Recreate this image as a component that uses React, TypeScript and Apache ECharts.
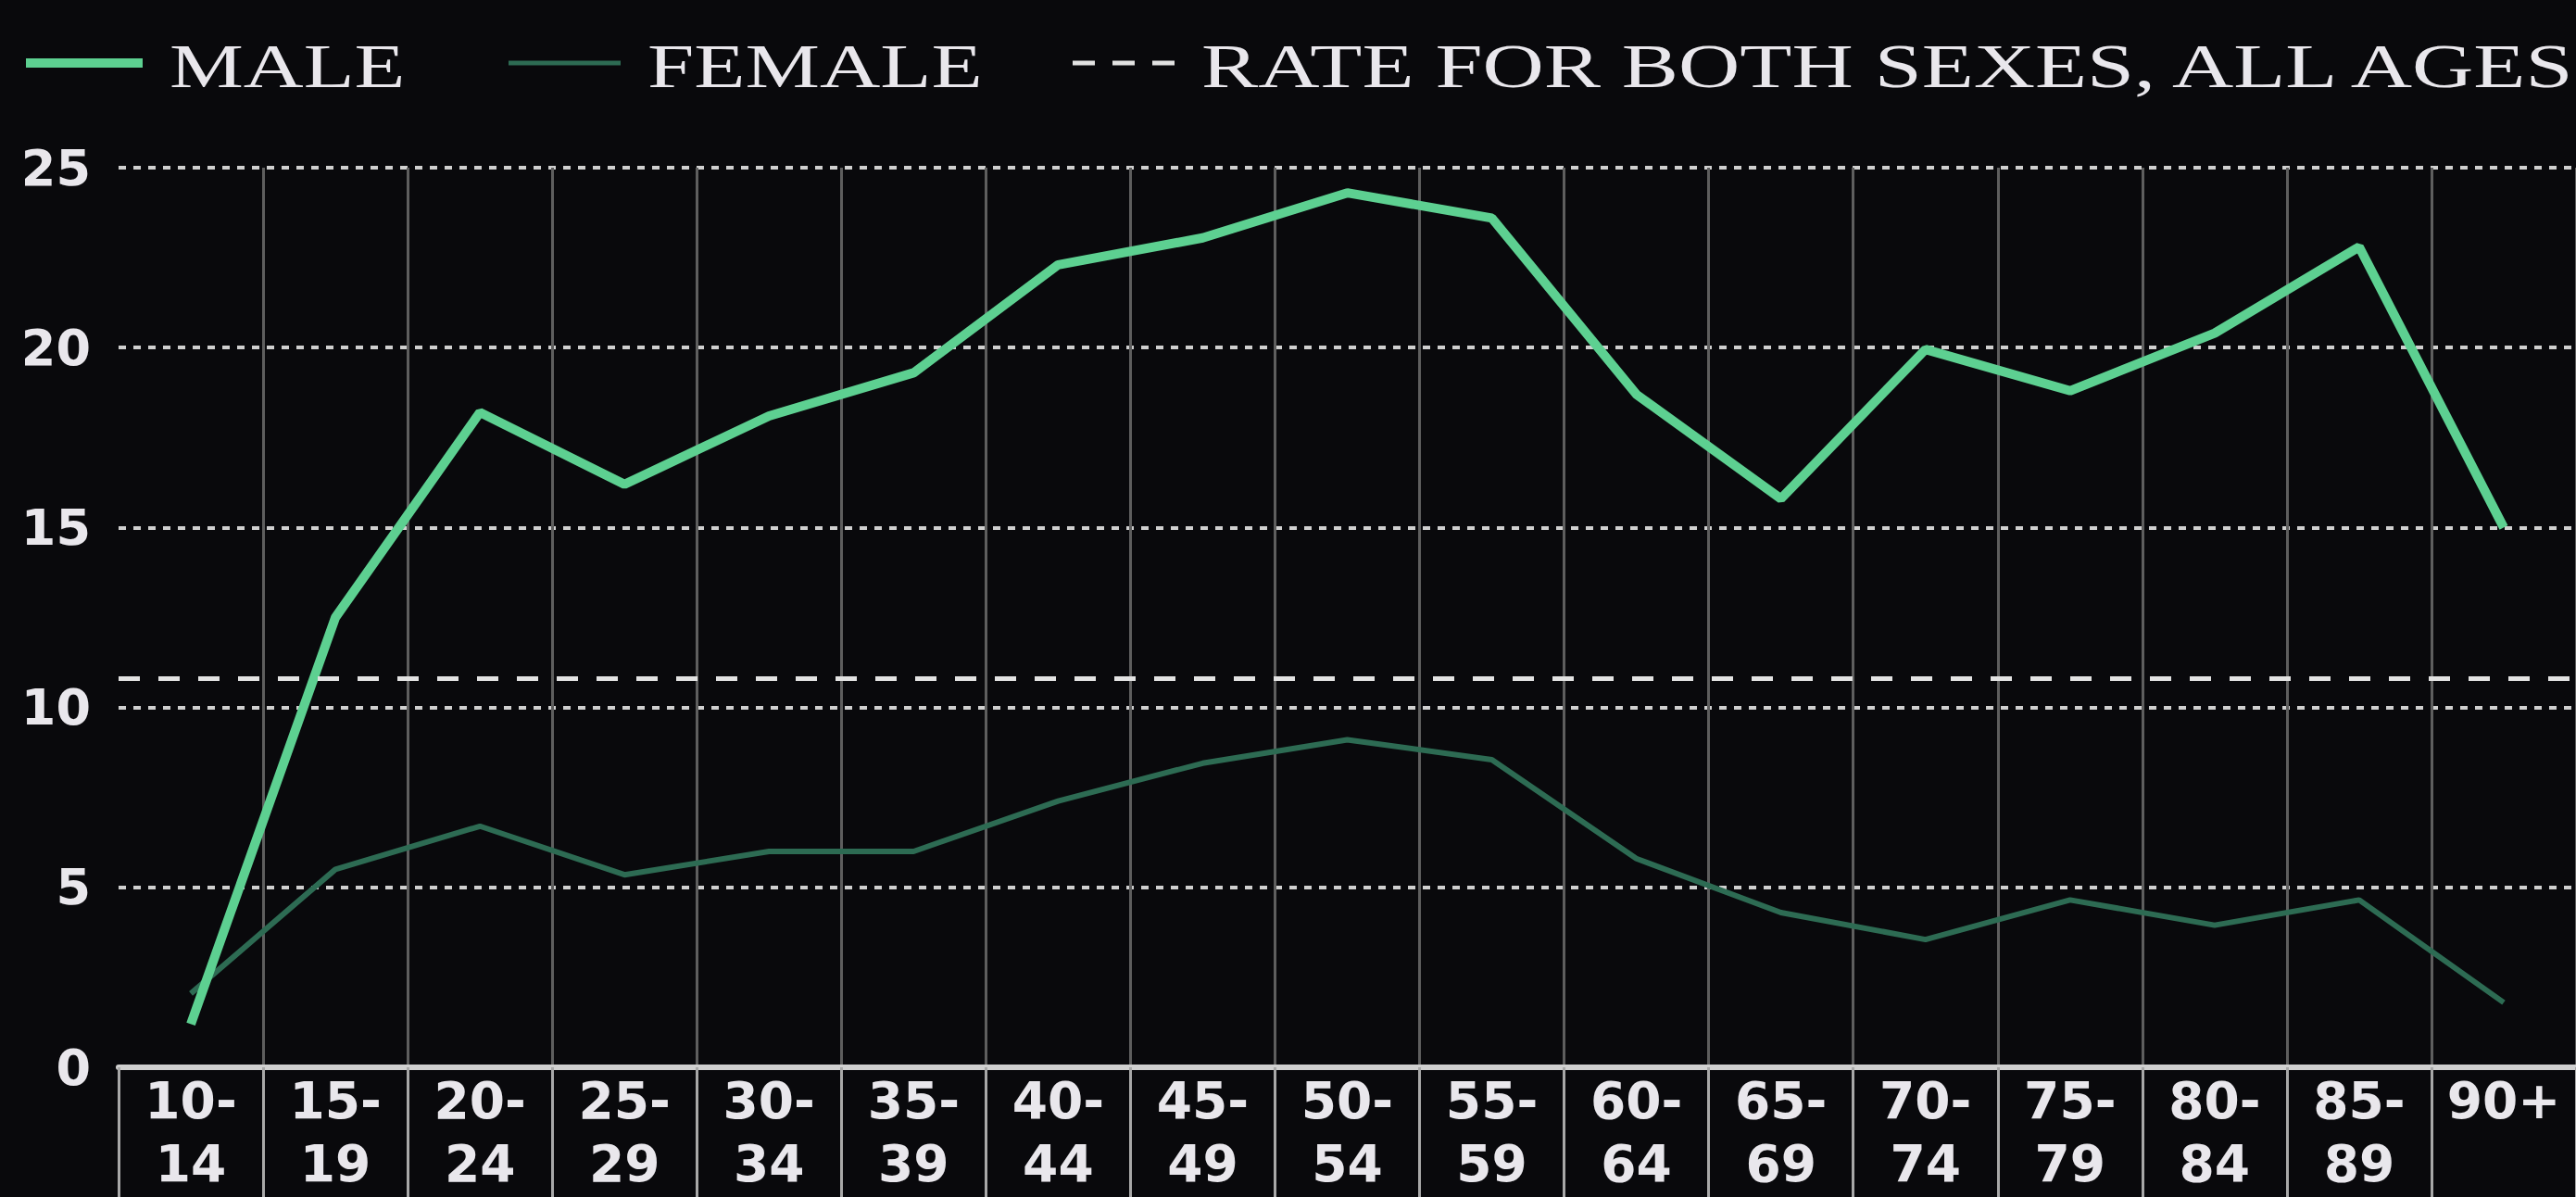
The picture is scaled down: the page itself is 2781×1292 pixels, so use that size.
import React, { useEffect, useRef } from "react";
import * as echarts from "echarts";

const categories = [
  "10-\n14", "15-\n19", "20-\n24", "25-\n29", "30-\n34", "35-\n39", "40-\n44", "45-\n49",
  "50-\n54", "55-\n59", "60-\n64", "65-\n69", "70-\n74", "75-\n79", "80-\n84", "85-\n89", "90+",
];
const maleRates = [1.2, 12.5, 18.2, 16.2, 18.1, 19.3, 22.3, 23.05, 24.3, 23.6, 18.7, 15.8, 19.95, 18.8, 20.4, 22.8, 15.0];
const femaleRates = [2.05, 5.5, 6.7, 5.35, 6.0, 6.0, 7.4, 8.45, 9.1, 8.55, 5.8, 4.3, 3.55, 4.65, 3.95, 4.65, 1.8];
const bothSexesRate = 10.8;
const seriesNames = ["MALE", "FEMALE", "RATE FOR BOTH SEXES, ALL AGES"];
const yMin = 0;
const yMax = 25;
const yInterval = 5;

const MALE_COLOR = "#5dd091";
const FEMALE_COLOR = "#2d6b53";
const REF_COLOR = "#e2e2e2";
const TEXT_COLOR = "#e9e7ec";

export default function App() {
  const ref = useRef<HTMLDivElement>(null);
  useEffect(() => {
    if (!ref.current) return;
    const chart = echarts.init(ref.current, undefined, { renderer: "svg" });
    const legendFont = '67px "Liberation Serif"';
    const legendY = 71;
    chart.setOption({
      animation: false,
      backgroundColor: "#09090c",
      grid: { left: 128, right: 0, top: 181, bottom: 140, containLabel: false, outerBoundsMode: "none" },
      graphic: [
        { type: "line", shape: { x1: 28, y1: 68, x2: 154, y2: 68 }, style: { stroke: MALE_COLOR, lineWidth: 10 } },
        { type: "text", x: 183, y: legendY, scaleX: 1.34, style: { text: seriesNames[0], fill: TEXT_COLOR, font: legendFont, verticalAlign: "middle" } },
        { type: "line", shape: { x1: 549, y1: 68, x2: 670, y2: 68 }, style: { stroke: FEMALE_COLOR, lineWidth: 5 } },
        { type: "text", x: 699, y: legendY, scaleX: 1.35, style: { text: seriesNames[1], fill: TEXT_COLOR, font: legendFont, verticalAlign: "middle" } },
        { type: "line", shape: { x1: 1158, y1: 68, x2: 1268, y2: 68 }, style: { stroke: REF_COLOR, lineWidth: 5, lineDash: [24, 19] } },
        { type: "text", x: 1297, y: legendY, scaleX: 1.37, style: { text: seriesNames[2], fill: TEXT_COLOR, font: legendFont, verticalAlign: "middle" } },
      ],
      xAxis: {
        type: "category",
        data: categories,
        boundaryGap: true,
        axisLine: { show: true, lineStyle: { color: "#d0d0d0", width: 6 } },
        axisTick: { show: true, interval: 0, length: 140, lineStyle: { color: "#a8a8a8", width: 3 } },
        axisLabel: {
          interval: 0,
          color: TEXT_COLOR,
          fontFamily: "DejaVu Sans",
          fontWeight: "bold",
          fontSize: 55,
          lineHeight: 68,
          margin: 2,
          verticalAlign: "top",
        },
        splitLine: { show: true, interval: 0, showMinLine: false, lineStyle: { color: "#5e5e5e", width: 3 } },
      },
      yAxis: {
        type: "value",
        min: yMin,
        max: yMax,
        interval: yInterval,
        axisLine: { show: false },
        axisTick: { show: false },
        axisLabel: { color: TEXT_COLOR, fontFamily: "DejaVu Sans", fontWeight: "bold", fontSize: 54, margin: 30 },
        splitLine: { show: true, lineStyle: { color: "#d0d0d0", width: 4, type: [8, 8] } },
      },
      series: [
        {
          name: seriesNames[0],
          type: "line",
          data: maleRates,
          symbol: "none",
          lineStyle: { color: MALE_COLOR, width: 10 },
          itemStyle: { color: MALE_COLOR },
          z: 4,
        },
        {
          name: seriesNames[1],
          type: "line",
          data: femaleRates,
          symbol: "none",
          lineStyle: { color: FEMALE_COLOR, width: 6 },
          itemStyle: { color: FEMALE_COLOR },
          z: 3,
        },
        {
          name: seriesNames[2],
          type: "line",
          data: [],
          symbol: "none",
          markLine: {
            silent: true,
            symbol: "none",
            label: { show: false },
            lineStyle: { color: REF_COLOR, width: 5, type: [23, 20] },
            data: [{ yAxis: bothSexesRate }],
          },
        },
      ],
    });
    return () => chart.dispose();
  }, []);
  return (
    <div
      ref={ref}
      style={{ position: "fixed", left: 0, top: 0, width: 2781, height: 1292 }}
    />
  );
}
